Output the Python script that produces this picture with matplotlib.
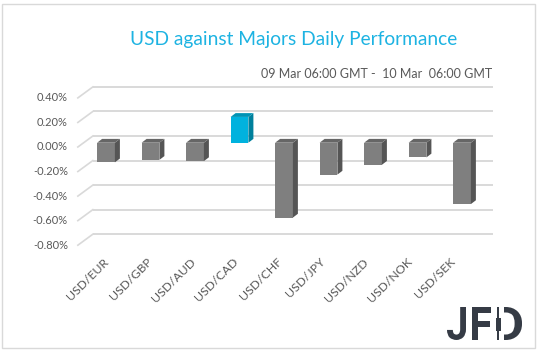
import matplotlib
matplotlib.use("Agg")
import matplotlib.pyplot as plt
from matplotlib.patches import Polygon, Rectangle, PathPatch
from matplotlib.lines import Line2D
from matplotlib.transforms import ScaledTranslation, IdentityTransform, Affine2D
from matplotlib.textpath import TextPath
from matplotlib.font_manager import FontProperties

# ---------------- data ----------------
categories = ["USD/EUR", "USD/GBP", "USD/AUD", "USD/CAD", "USD/CHF",
              "USD/JPY", "USD/NZD", "USD/NOK", "USD/SEK"]
values = [-0.16, -0.14, -0.15, 0.21, -0.61, -0.26, -0.18, -0.12, -0.50]
y_ticks = [0.4, 0.2, 0.0, -0.2, -0.4, -0.6, -0.8]
y_tick_labels = ["0.40%", "0.20%", "0.00%", "-0.20%", "-0.40%", "-0.60%", "-0.80%"]
title = "USD against Majors Daily Performance"
subtitle = "09 Mar 06:00 GMT -  10 Mar  06:00 GMT"

# ---------------- style ----------------
plt.rcParams["font.family"] = ["Lato", "DejaVu Sans"]
W, H = 538, 351
GRID = "#D9D9D9"
TXT = "#595959"
GRAY_FRONT, GRAY_SIDE, GRAY_TOP = "#7F7F7F", "#555555", "#666666"
BLUE_FRONT, BLUE_SIDE, BLUE_TOP = "#00B2DE", "#00809C", "#0093B5"
LOGO = "#353B45"

fig = plt.figure(figsize=(W / 100, H / 100), dpi=100)
fig.patch.set_facecolor("white")

# axes = plane of the bar fronts
ax = fig.add_axes([83.75 / W, (H - 240.9) / H, 400.5 / W, (240.9 - 93.6) / H])
ax.set_xlim(-0.5, len(categories) - 0.5)
ax.set_ylim(min(y_ticks), max(y_ticks))
ax.axis("off")

def shifted(dx, dy):
    return ax.transData + ScaledTranslation(dx / 100, dy / 100, fig.dpi_scale_trans)

front = shifted(-5.9, -4.3)   # category-axis plane
back = shifted(9.1, 6.7)      # back wall plane
xmin, xmax = ax.get_xlim()

# back wall gridlines
for v in y_ticks:
    ax.plot([xmin, xmax], [v, v], color=GRID, lw=1.4, transform=back,
            zorder=0, clip_on=False, solid_capstyle="butt")

# side wall diagonals + tick labels
for v, lab in zip(y_ticks, y_tick_labels):
    p1 = front.transform((xmin, v))
    p2 = back.transform((xmin, v))
    fig.add_artist(Line2D([p1[0], p2[0]], [p1[1], p2[1]], color=GRID, lw=1.2,
                          transform=IdentityTransform()))
    fig.text((p1[0] - 10) / W, p1[1] / H, lab, ha="right", va="center",
             fontsize=8, color=TXT)

# bars
bw = 0.40
dx_d, dy_d = 5.0, 3.8
xs = list(range(len(categories)))
colors = [BLUE_FRONT if v > 0 else GRAY_FRONT for v in values]
ax.bar(xs, values, width=bw, color=colors, zorder=3)
for i, v in enumerate(values):
    side_c = BLUE_SIDE if v > 0 else GRAY_SIDE
    top_c = BLUE_TOP if v > 0 else GRAY_TOP
    top, bot = max(v, 0), min(v, 0)
    x0, x1 = i - bw / 2, i + bw / 2
    a = ax.transData.transform((x1, top))
    b = ax.transData.transform((x1, bot))
    c = ax.transData.transform((x0, top))
    side = [a, b, (b[0] + dx_d, b[1] + dy_d), (a[0] + dx_d, a[1] + dy_d)]
    topf = [c, a, (a[0] + dx_d, a[1] + dy_d), (c[0] + dx_d, c[1] + dy_d)]
    fig.add_artist(Polygon(side, closed=True, facecolor=side_c, edgecolor="none",
                           transform=IdentityTransform()))
    fig.add_artist(Polygon(topf, closed=True, facecolor=top_c, edgecolor="none",
                           transform=IdentityTransform()))

# category labels
base = front.transform((0, min(y_ticks)))[1]
for i, lab in enumerate(categories):
    px = ax.transData.transform((i, 0))[0] - 3 - 1.2 * i
    fig.text(px / W, (base - 11) / H, lab, rotation=45, rotation_mode="anchor",
             ha="right", va="top", fontsize=8.8, color=TXT)

# titles
fig.text(293.5 / W, 1 - 40 / H, title, ha="center", va="center",
         fontsize=13.8, color="#1DB3E2")
fig.text(492 / W, 1 - 74.5 / H, subtitle, ha="right", va="center",
         fontsize=9, color=TXT)

# border
fig.add_artist(Rectangle((2 / W, 3 / H), 533 / W, 344 / H, transform=fig.transFigure,
                         fill=False, edgecolor=GRID, lw=1))

# logo "JFD" (letters fitted into pixel boxes, D with candlestick stem)
fp = FontProperties(family="Roboto", weight="bold")
logo_boxes = {"J": (447, 466), "F": (472, 491), "D": (495, 522)}
ytop, ybot = H - 307, H - 340
for ch, (l, r) in logo_boxes.items():
    tp = TextPath((0, 0), ch, size=40, prop=fp)
    e = tp.get_extents()
    tr = (Affine2D().translate(-e.x0, -e.y0)
          .scale((r - l) / e.width, (ytop - ybot) / e.height)
          .translate(l, ybot))
    fig.add_artist(PathPatch(tr.transform_path(tp), facecolor=LOGO,
                             edgecolor="none", transform=IdentityTransform()))
# candlestick replacing D stem
fig.add_artist(Rectangle((494, ybot - 1), 9.5, ytop - ybot + 2, facecolor="white",
                         edgecolor="none", transform=IdentityTransform()))
fig.add_artist(Rectangle((497.2, ybot), 2.0, ytop - ybot, facecolor=LOGO,
                         edgecolor="none", transform=IdentityTransform()))
fig.add_artist(Rectangle((495.5, H - 331), 5.4, 13, facecolor=LOGO,
                         edgecolor="none", transform=IdentityTransform()))

fig.savefig("out.png", dpi=100)
